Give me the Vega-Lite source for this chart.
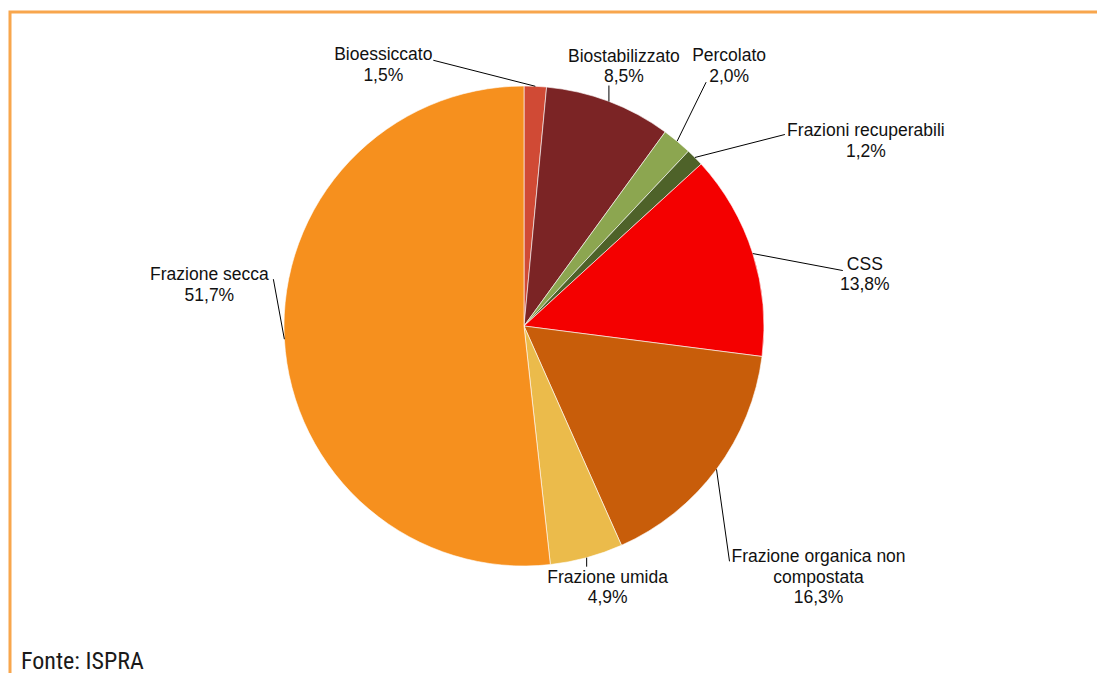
{
  "$schema": "https://vega.github.io/schema/vega-lite/v6.json",
  "width": 1090,
  "height": 665,
  "autosize": "none",
  "padding": {"left": 10, "top": 12, "right": 0, "bottom": 0},
  "background": "white",
  "config": {
    "view": {"stroke": "#F8A64D", "strokeWidth": 3},
    "text": {"font": "Liberation Sans", "fontSize": 17.5, "lineHeight": 20.5, "color": "#111111", "lineBreak": "\n", "align": "center", "baseline": "alphabetic"}
  },
  "title": {
    "text": "Fonte: ISPRA",
    "orient": "bottom",
    "anchor": "start",
    "frame": "group",
    "font": "'Liberation Sans Narrow', 'Arial Narrow', 'Roboto Condensed', 'DejaVu Sans Condensed', 'Liberation Sans', sans-serif",
    "fontSize": 24,
    "fontWeight": "normal",
    "color": "#1a1a1a",
    "baseline": "alphabetic",
    "offset": -8,
    "dx": 11
  },
  "data": {
    "values": [
      {"i": 1, "name": "Bioessiccato", "lbl": "Bioessiccato", "v": 1.5},
      {"i": 2, "name": "Biostabilizzato", "lbl": "Biostabilizzato", "v": 8.5},
      {"i": 3, "name": "Percolato", "lbl": "Percolato", "v": 2.0},
      {"i": 4, "name": "Frazioni recuperabili", "lbl": "Frazioni recuperabili", "v": 1.2},
      {"i": 5, "name": "CSS", "lbl": "CSS", "v": 13.8},
      {"i": 6, "name": "Frazione organica non compostata", "lbl": "Frazione organica non\ncompostata", "v": 16.3},
      {"i": 7, "name": "Frazione umida", "lbl": "Frazione umida", "v": 4.9},
      {"i": 8, "name": "Frazione secca", "lbl": "Frazione secca", "v": 51.7}
    ]
  },
  "transform": [
    {"stack": "v", "groupby": [], "sort": [{"field": "i", "order": "ascending"}], "as": ["v0", "v1"]},
    {"joinaggregate": [{"op": "sum", "field": "v", "as": "tot"}]},
    {"calculate": "PI*(datum.v0+datum.v1)/datum.tot", "as": "a"},
    {"calculate": "240*sin(datum.a)", "as": "ex"},
    {"calculate": "240*cos(datum.a)", "as": "ey"},
    {"calculate": "datum.lbl + '\\n' + replace(format(datum.v, '.1f'), '.', ',') + '%'", "as": "txt"}
  ],
  "layer": [
    {
      "mark": {"type": "arc", "radius": 240, "stroke": "white", "strokeWidth": 0.6},
      "encoding": {
        "x": {"datum": 0, "type": "quantitative", "scale": {"domain": [-514, 576], "nice": false, "zero": false}, "axis": null},
        "y": {"datum": 0, "type": "quantitative", "scale": {"domain": [-351, 314], "nice": false, "zero": false}, "axis": null},
        "theta": {"field": "v0", "type": "quantitative", "scale": {"domain": [0, 99.9]}},
        "theta2": {"field": "v1"},
        "color": {
          "field": "name",
          "type": "nominal",
          "legend": null,
          "scale": {
            "domain": ["Bioessiccato", "Biostabilizzato", "Percolato", "Frazioni recuperabili", "CSS", "Frazione organica non compostata", "Frazione umida", "Frazione secca"],
            "range": ["#D04A35", "#7B2425", "#8CA650", "#4E6229", "#F40000", "#C85D0A", "#EBBB4B", "#F6901E"]
          }
        }
      }
    },
    {
      "transform": [{"filter": "datum.name === 'Bioessiccato'"}],
      "encoding": {
        "x": {"field": "ex", "type": "quantitative", "scale": {"domain": [-514, 576], "nice": false, "zero": false}, "axis": null},
        "y": {"field": "ey", "type": "quantitative", "scale": {"domain": [-351, 314], "nice": false, "zero": false}, "axis": null}
      },
      "layer": [
        {"mark": {"type": "rule", "color": "black", "strokeWidth": 1, "x2Offset": -102, "y2Offset": -26}, "encoding": {"x2": {"field": "ex"}, "y2": {"field": "ey"}}},
        {"mark": {"type": "text", "dx": -152, "dy": -26}, "encoding": {"text": {"field": "txt"}}}
      ]
    },
    {
      "transform": [{"filter": "datum.name === 'Biostabilizzato'"}],
      "encoding": {
        "x": {"field": "ex", "type": "quantitative", "scale": {"domain": [-514, 576], "nice": false, "zero": false}, "axis": null},
        "y": {"field": "ey", "type": "quantitative", "scale": {"domain": [-351, 314], "nice": false, "zero": false}, "axis": null}
      },
      "layer": [
        {"mark": {"type": "rule", "color": "black", "strokeWidth": 1, "x2Offset": 0, "y2Offset": -16}, "encoding": {"x2": {"field": "ex"}, "y2": {"field": "ey"}}},
        {"mark": {"type": "text", "dx": 15, "dy": -40}, "encoding": {"text": {"field": "txt"}}}
      ]
    },
    {
      "transform": [{"filter": "datum.name === 'Percolato'"}],
      "encoding": {
        "x": {"field": "ex", "type": "quantitative", "scale": {"domain": [-514, 576], "nice": false, "zero": false}, "axis": null},
        "y": {"field": "ey", "type": "quantitative", "scale": {"domain": [-351, 314], "nice": false, "zero": false}, "axis": null}
      },
      "layer": [
        {"mark": {"type": "rule", "color": "black", "strokeWidth": 1, "x2Offset": 29, "y2Offset": -59}, "encoding": {"x2": {"field": "ex"}, "y2": {"field": "ey"}}},
        {"mark": {"type": "text", "dx": 52, "dy": -80}, "encoding": {"text": {"field": "txt"}}}
      ]
    },
    {
      "transform": [{"filter": "datum.name === 'Frazioni recuperabili'"}],
      "encoding": {
        "x": {"field": "ex", "type": "quantitative", "scale": {"domain": [-514, 576], "nice": false, "zero": false}, "axis": null},
        "y": {"field": "ey", "type": "quantitative", "scale": {"domain": [-351, 314], "nice": false, "zero": false}, "axis": null}
      },
      "layer": [
        {"mark": {"type": "rule", "color": "black", "strokeWidth": 1, "x2Offset": 90, "y2Offset": -23}, "encoding": {"x2": {"field": "ex"}, "y2": {"field": "ey"}}},
        {"mark": {"type": "text", "dx": 171, "dy": -21}, "encoding": {"text": {"field": "txt"}}}
      ]
    },
    {
      "transform": [{"filter": "datum.name === 'CSS'"}],
      "encoding": {
        "x": {"field": "ex", "type": "quantitative", "scale": {"domain": [-514, 576], "nice": false, "zero": false}, "axis": null},
        "y": {"field": "ey", "type": "quantitative", "scale": {"domain": [-351, 314], "nice": false, "zero": false}, "axis": null}
      },
      "layer": [
        {"mark": {"type": "rule", "color": "black", "strokeWidth": 1, "x2Offset": 90, "y2Offset": 17}, "encoding": {"x2": {"field": "ex"}, "y2": {"field": "ey"}}},
        {"mark": {"type": "text", "dx": 112, "dy": 16}, "encoding": {"text": {"field": "txt"}}}
      ]
    },
    {
      "transform": [{"filter": "datum.name === 'Frazione organica non compostata'"}],
      "encoding": {
        "x": {"field": "ex", "type": "quantitative", "scale": {"domain": [-514, 576], "nice": false, "zero": false}, "axis": null},
        "y": {"field": "ey", "type": "quantitative", "scale": {"domain": [-351, 314], "nice": false, "zero": false}, "axis": null}
      },
      "layer": [
        {"mark": {"type": "rule", "color": "black", "strokeWidth": 1, "x2Offset": 13, "y2Offset": 92}, "encoding": {"x2": {"field": "ex"}, "y2": {"field": "ey"}}},
        {"mark": {"type": "text", "dx": 102, "dy": 93}, "encoding": {"text": {"field": "txt"}}}
      ]
    },
    {
      "transform": [{"filter": "datum.name === 'Frazione umida'"}],
      "encoding": {
        "x": {"field": "ex", "type": "quantitative", "scale": {"domain": [-514, 576], "nice": false, "zero": false}, "axis": null},
        "y": {"field": "ey", "type": "quantitative", "scale": {"domain": [-351, 314], "nice": false, "zero": false}, "axis": null}
      },
      "layer": [
        {"mark": {"type": "rule", "color": "black", "strokeWidth": 1, "x2Offset": 0, "y2Offset": 9}, "encoding": {"x2": {"field": "ex"}, "y2": {"field": "ey"}}},
        {"mark": {"type": "text", "dx": 21, "dy": 25}, "encoding": {"text": {"field": "txt"}}}
      ]
    },
    {
      "transform": [{"filter": "datum.name === 'Frazione secca'"}],
      "encoding": {
        "x": {"field": "ex", "type": "quantitative", "scale": {"domain": [-514, 576], "nice": false, "zero": false}, "axis": null},
        "y": {"field": "ey", "type": "quantitative", "scale": {"domain": [-351, 314], "nice": false, "zero": false}, "axis": null}
      },
      "layer": [
        {"mark": {"type": "rule", "color": "black", "strokeWidth": 1, "x2Offset": -11, "y2Offset": -60}, "encoding": {"x2": {"field": "ex"}, "y2": {"field": "ey"}}},
        {"mark": {"type": "text", "dx": -75, "dy": -59}, "encoding": {"text": {"field": "txt"}}}
      ]
    }
  ]
}
